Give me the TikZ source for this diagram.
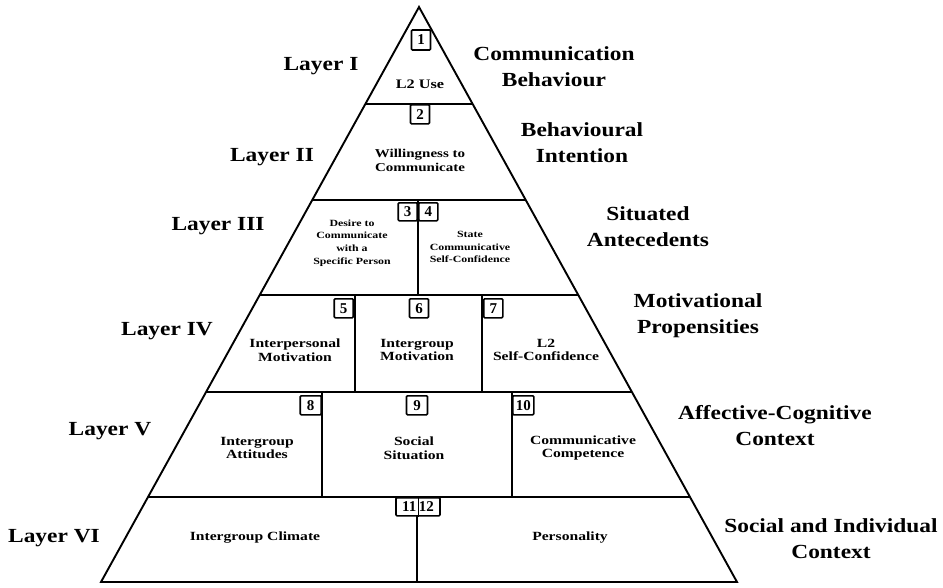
\documentclass[tikz,border=0pt]{standalone}
\usepackage{fontspec}
\setmainfont{Liberation Serif}
\newfontfamily\bigfont{Liberation Serif}[FakeStretch=1.17]
\newfontfamily\cellfont{Liberation Serif}[FakeStretch=1.25]
\usetikzlibrary{calc}
\tikzset{
  edge/.style={line width=1.9pt, line join=miter},
  divider/.style={line width=1.4pt},
  numbox/.style={draw, line width=1.6pt, rounded corners=1pt, minimum width=19pt, minimum height=19pt, inner sep=0pt, font=\fontsize{15}{15}\selectfont\bfseries, fill=white},
  cell/.style={align=center, font=\cellfont\fontsize{12.5}{13.5}\selectfont\bfseries},
  smallcell/.style={align=center, font=\cellfont\fontsize{9.5}{12.7}\selectfont\bfseries},
  layerlab/.style={font=\bigfont\fontsize{20}{22}\selectfont\bfseries},
  ctxlab/.style={align=center, font=\bigfont\fontsize{20}{26}\selectfont\bfseries}
}
\begin{document}
\begin{tikzpicture}[x=1pt,y=-1pt]
\useasboundingbox (0,0) rectangle (943,587);
\coordinate (apex) at (419,7);
\coordinate (bl) at (101,582);
\coordinate (br) at (737,582);
% layer boundaries
\foreach \n/\yy in {a/104,b/200,c/295,d/392,e/497}{
  \coordinate (L\n) at ($(apex)!{(\yy-7)/575}!(bl)$);
  \coordinate (R\n) at ($(apex)!{(\yy-7)/575}!(br)$);
}
\draw[edge] (apex) -- (bl) -- (br) -- cycle;
\draw[edge] (La) -- (Ra);
\draw[edge] (Lb) -- (Rb);
\draw[edge] (Lc) -- (Rc);
\draw[edge] (Ld) -- (Rd);
\draw[edge] (Le) -- (Re);
% dividers
\coordinate (d3t) at (418,200); \coordinate (d3b) at (418,295);
\coordinate (d4at) at (355,295); \coordinate (d4ab) at (355,392);
\coordinate (d4bt) at (482,295); \coordinate (d4bb) at (482,392);
\coordinate (d5at) at (322,392); \coordinate (d5ab) at (322,497);
\coordinate (d5bt) at (512,392); \coordinate (d5bb) at (512,497);
\coordinate (d6t) at (417,497); \coordinate (d6b) at (417,582);
\draw[divider] (d3t) -- (d3b);
\draw[divider] (d4at) -- (d4ab);
\draw[divider] (d4bt) -- (d4bb);
\draw[divider] (d5at) -- (d5ab);
\draw[divider] (d5bt) -- (d5bb);
\draw[divider] (d6t) -- (d6b);
% number boxes
\node[numbox, minimum height=20pt] (n1) at (421,40) {1};
\node[numbox, anchor=north] (n2) at (420,104) {2};
\node[numbox, anchor=north east, minimum height=18pt] (n3) at (418,202) {3};
\node[numbox, anchor=north west, minimum height=18pt] (n4) at (418,202) {4};
\node[numbox, anchor=north east] (n5) at (354,298) {5};
\node[numbox, anchor=north] (n6) at (419,298) {6};
\node[numbox, anchor=north west] (n7) at (483,298) {7};
\node[numbox, anchor=north east, minimum width=21pt] (n8) at (322,395) {8};
\node[numbox, anchor=north, minimum width=21pt] (n9) at (417,395) {9};
\node[numbox, anchor=north west, minimum width=21pt] (n10) at (512,395) {10};
\node[numbox, anchor=north, minimum width=44pt, minimum height=18pt] (n1112) at (418,497) {11\,12};
\draw[line width=1pt] (n1112.north) -- (n1112.south);
% cell texts
\node[cell, font=\cellfont\fontsize{13}{14}\selectfont\bfseries] (t1) at (420,84) {L2 Use};
\node[cell, font=\cellfont\fontsize{12}{14}\selectfont\bfseries] (t2) at (420,160) {Willingness to\\Communicate};
\node[smallcell] (t3) at (352,243) {Desire to\\Communicate\\with a\\Specific Person};
\node[smallcell] (t4) at (470,247) {State\\Communicative\\Self-Confidence};
\node[cell] (t5) at (295,350) {Interpersonal\\Motivation};
\node[cell] (t6) at (417,350) {Intergroup\\Motivation};
\node[cell] (t7) at (546,350) {L2\\Self-Confidence};
\node[cell] (t8) at (257,448) {Intergroup\\Attitudes};
\node[cell] (t9) at (414,448) {Social\\Situation};
\node[cell] (t10) at (583,448) {Communicative\\Competence};
\node[cell] (t11) at (255,538) {Intergroup Climate};
\node[cell] (t12) at (570,538) {Personality};
% layer labels
\node[layerlab] (l1) at (321,66) {Layer I};
\node[layerlab] (l2) at (272,157) {Layer II};
\node[layerlab] (l3) at (218,226) {Layer III};
\node[layerlab] (l4) at (167,331) {Layer IV};
\node[layerlab] (l5) at (110,431) {Layer V};
\node[layerlab] (l6) at (54,538) {Layer VI};
% context labels
\node[ctxlab] (c1) at (554,67) {Communication\\Behaviour};
\node[ctxlab] (c2) at (582,143) {Behavioural\\Intention};
\node[ctxlab] (c3) at (648,227) {Situated\\Antecedents};
\node[ctxlab] (c4) at (698,316) {Motivational\\Propensities};
\node[ctxlab] (c5) at (775,426) {Affective-Cognitive\\Context};
\node[ctxlab] (c6) at (831,539) {Social and Individual\\Context};
\end{tikzpicture}
\end{document}
